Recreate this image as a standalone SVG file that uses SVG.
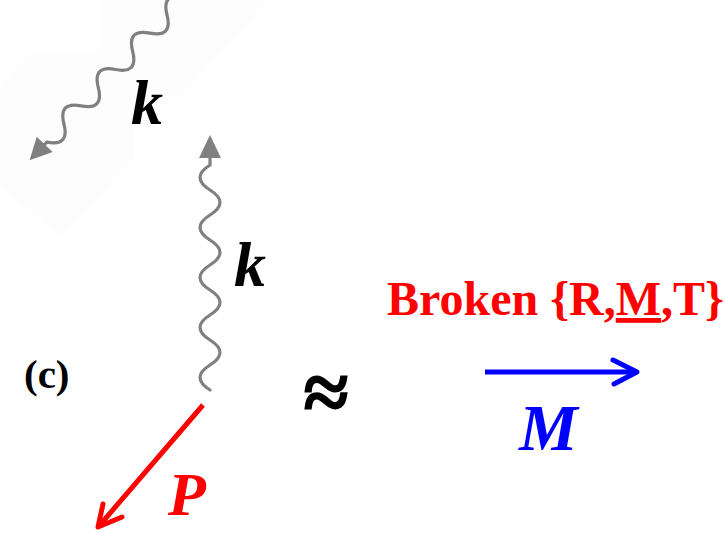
<svg xmlns="http://www.w3.org/2000/svg" width="725" height="533" viewBox="0 0 725 533">
<style>
.wave{fill:none;stroke:#808080;stroke-width:3.2;stroke-linecap:round}
.head{fill:#808080}
.lbl{font-family:"Liberation Serif","Times New Roman",serif;font-weight:bold}
.it{font-style:italic}
</style>
<rect width="725" height="533" fill="#ffffff"/>
<polygon points="100,0 268,0 180,98 135,98 135,157 60,237 0,185 0,85 30,53 100,53" fill="#fdfdfd"/>
<g id="connectors">
  <g id="photon-top" transform="translate(167,15) rotate(133.4)">
    <path class="wave" d="M-25,0 c8.3,13.3 16.7,13.3 25,0 s16.7,-13.3 25,0 s16.7,13.3 25,0 s16.7,-13.3 25,0 s16.7,13.3 25,0 s16.7,-13.3 25,0 s16.7,13.3 25,0 s16.7,-13.3 25,0 l4,0"/>
    <polygon class="head" points="178,-11 178,11 200,0"/>
  </g>
  <g id="photon-vertical" transform="translate(210,390) rotate(-90)">
    <path class="wave" d="M0,0 c8.3,-13.3 16.7,-13.3 25,0 s16.7,13.3 25,0 s16.7,-13.3 25,0 s16.7,13.3 25,0 s16.7,-13.3 25,0 s16.7,13.3 25,0 s16.7,-13.3 25,0 s16.7,13.3 25,0 s16.7,-13.3 25,0 l8,0"/>
    <polygon class="head" points="232,-11 232,11 255,0"/>
  </g>
  <g id="arrow-P" fill="none" stroke="#ff0000" stroke-width="5">
    <line x1="203" y1="405" x2="99" y2="526"/>
    <polyline points="103,504 98,527 122,517" stroke-linecap="round" stroke-linejoin="round"/>
  </g>
  <g id="arrow-M" fill="none" stroke="#0000ff" stroke-width="5">
    <line x1="485" y1="372" x2="636" y2="372"/>
    <polyline points="613,360 637,372 614,384" stroke-linecap="round" stroke-linejoin="round"/>
  </g>
</g>
<g id="label-k-top"><text class="lbl it" x="131" y="124" font-size="64">k</text></g>
<g id="label-k"><text class="lbl it" x="234" y="286" font-size="64">k</text></g>
<g id="label-c"><text class="lbl" x="24" y="388" font-size="41">(c)</text></g>
<g id="approx"><text class="lbl" x="326" y="420" font-size="82" text-anchor="middle" stroke="#000000" stroke-width="1.6">≈</text></g>
<g id="label-P"><text class="lbl it" x="168" y="515" font-size="62" fill="#ff0000">P</text></g>
<g id="label-M"><text class="lbl it" x="519" y="450" font-size="66" fill="#0000ff">M</text></g>
<g id="label-broken"><text class="lbl" x="387" y="315" font-size="48" fill="#ff0000">Broken {R,<tspan text-decoration="underline">M</tspan>,T}</text></g>
</svg>
